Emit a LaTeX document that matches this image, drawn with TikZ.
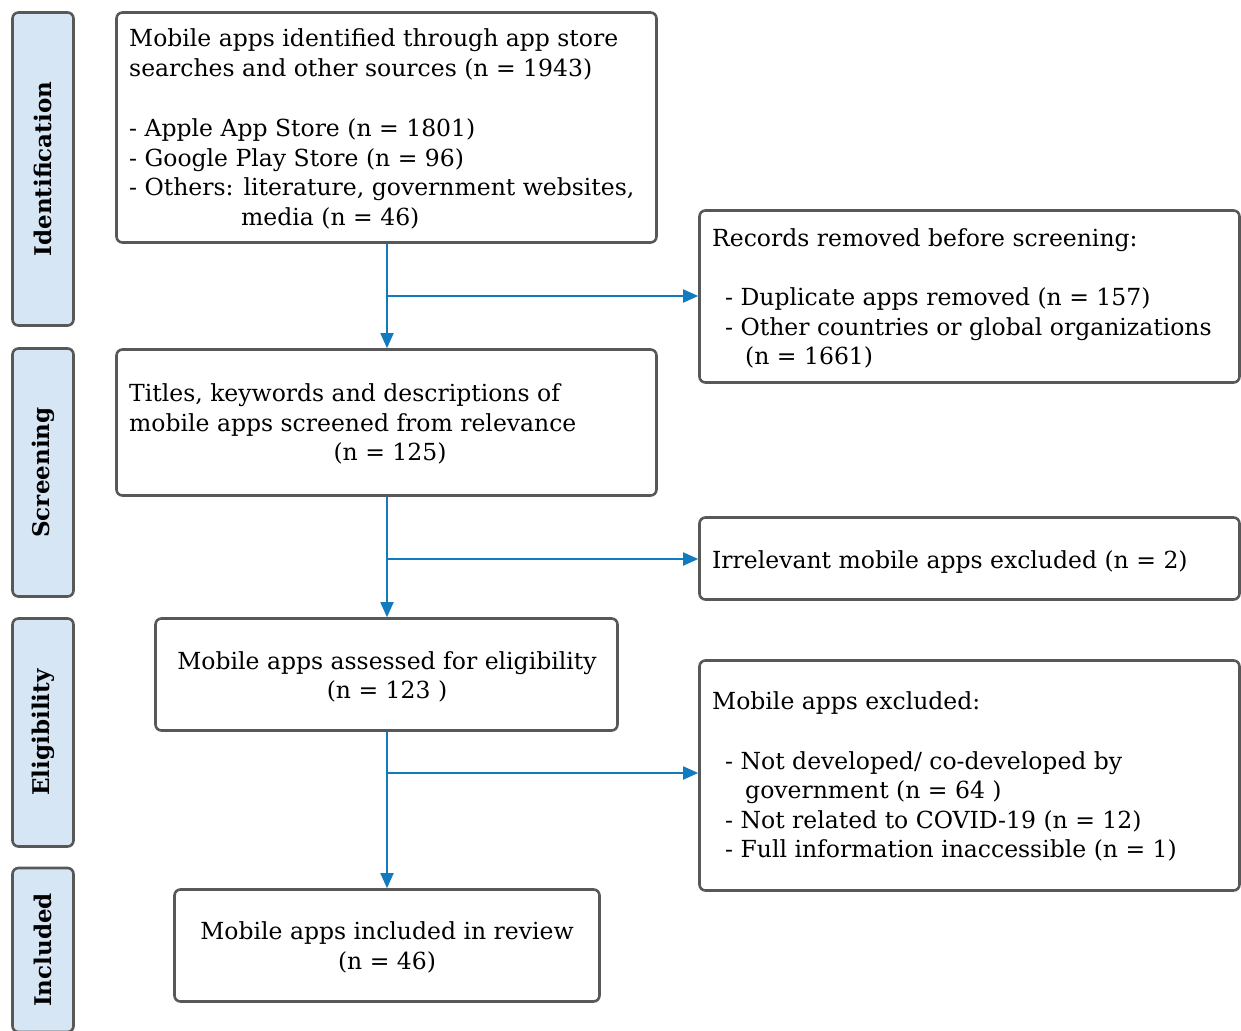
\documentclass[tikz,border=0pt]{standalone}
\usepackage{fontspec}
\setmainfont{DejaVu Serif}
\usetikzlibrary{arrows.meta}
\definecolor{boxgray}{RGB}{88,88,88}
\definecolor{phasefill}{RGB}{214,230,245}
\definecolor{arrowblue}{RGB}{18,122,191}
\newcommand{\mainsize}{\fontsize{23.5}{29.7}\selectfont}
\tikzset{
  box/.style={draw=boxgray, line width=2.6pt, rounded corners=6pt, fill=white, inner sep=0pt},
  phase/.style={draw=boxgray, line width=2.6pt, rounded corners=6pt, fill=phasefill, inner sep=0pt, font=\fontsize{23}{28}\selectfont\bfseries},
  txt/.style={anchor=base west, inner sep=0pt},
  ctxt/.style={anchor=base, inner sep=0pt},
  flow/.style={draw=arrowblue, line width=1.8pt, -{Triangle[length=15pt,width=13pt]}}
}
\begin{document}
\begin{tikzpicture}[x=1pt,y=-1pt, font=\mainsize]
\useasboundingbox (0,0) rectangle (1241,1030);
\clip (0,0) rectangle (1241,1030);
% phase labels
\node[phase, minimum width=313pt, minimum height=61pt, rotate=90] (pId) at (43,169) {Identification};
\node[phase, minimum width=248pt, minimum height=61pt, rotate=90] (pSc) at (43,472.5) {Screening};
\node[phase, minimum width=228pt, minimum height=61pt, rotate=90] (pEl) at (43,732.5) {Eligibility};
\node[phase, minimum width=164pt, minimum height=61pt, rotate=90] (pIn) at (43,950) {Included};
% boxes
\node[box, minimum width=540pt, minimum height=230pt] (b1) at (386.5,127.5) {};
\node[box, minimum width=540pt, minimum height=172pt] (b2) at (969.5,296.5) {};
\node[box, minimum width=540pt, minimum height=146pt] (b3) at (386.5,422.5) {};
\node[box, minimum width=540pt, minimum height=82pt] (b4) at (969.5,558.5) {};
\node[box, minimum width=462pt, minimum height=112pt] (b5) at (386.5,674.5) {};
\node[box, minimum width=540pt, minimum height=230pt] (b6) at (969.5,775.5) {};
\node[box, minimum width=425pt, minimum height=112pt] (b7) at (387,945.5) {};
% box 1 text
\node[txt] (t1a) at (129,47) {Mobile apps identified through app store};
\node[txt] (t1b) at (129,77) {searches and other sources (n = 1943)};
\node[txt] (t1c) at (129,136) {- Apple App Store (n = 1801)};
\node[txt] (t1d) at (129,166) {- Google Play Store (n = 96)};
\node[txt] (t1e) at (129,195) {- Others: literature, government websites,};
\node[txt] (t1f) at (241,225) {media (n = 46)};
% box 2 text
\node[txt] (t2a) at (712,246) {Records removed before screening:};
\node[txt] (t2b) at (725,305) {- Duplicate apps removed (n = 157)};
\node[txt] (t2c) at (725,335) {- Other countries or global organizations};
\node[txt] (t2d) at (745,364) {(n = 1661)};
% box 3 text
\node[txt] (t3a) at (129,401) {Titles, keywords and descriptions of};
\node[txt] (t3b) at (129,431) {mobile apps screened from relevance};
\node[ctxt] (t3c) at (390,460) {(n = 125)};
% box 4 text
\node[txt] (t4a) at (712,568) {Irrelevant mobile apps excluded (n = 2)};
% box 5 text
\node[ctxt] (t5a) at (387,669) {Mobile apps assessed for eligibility};
\node[ctxt] (t5b) at (387,698) {(n = 123 )};
% box 6 text
\node[txt] (t6a) at (712,709) {Mobile apps excluded:};
\node[txt] (t6b) at (725,769) {- Not developed/ co-developed by};
\node[txt] (t6c) at (745,798) {government (n = 64 )};
\node[txt] (t6d) at (725,828) {- Not related to COVID-19 (n = 12)};
\node[txt] (t6e) at (725,857) {- Full information inaccessible (n = 1)};
% box 7 text
\node[ctxt] (t7a) at (387,939) {Mobile apps included in review};
\node[ctxt] (t7b) at (387,969) {(n = 46)};
% connectors
\coordinate (j1) at (387,296);
\coordinate (j2) at (387,559);
\coordinate (j3) at (387,773);
\draw[flow] (b1.south -| j1) -- (b3.north -| j1);
\draw[flow] (j1) -- (b2.west |- j1);
\draw[flow] (b3.south -| j2) -- (b5.north -| j2);
\draw[flow] (j2) -- (b4.west |- j2);
\draw[flow] (b5.south -| j3) -- (b7.north -| j3);
\draw[flow] (j3) -- (b6.west |- j3);
\end{tikzpicture}
\end{document}
